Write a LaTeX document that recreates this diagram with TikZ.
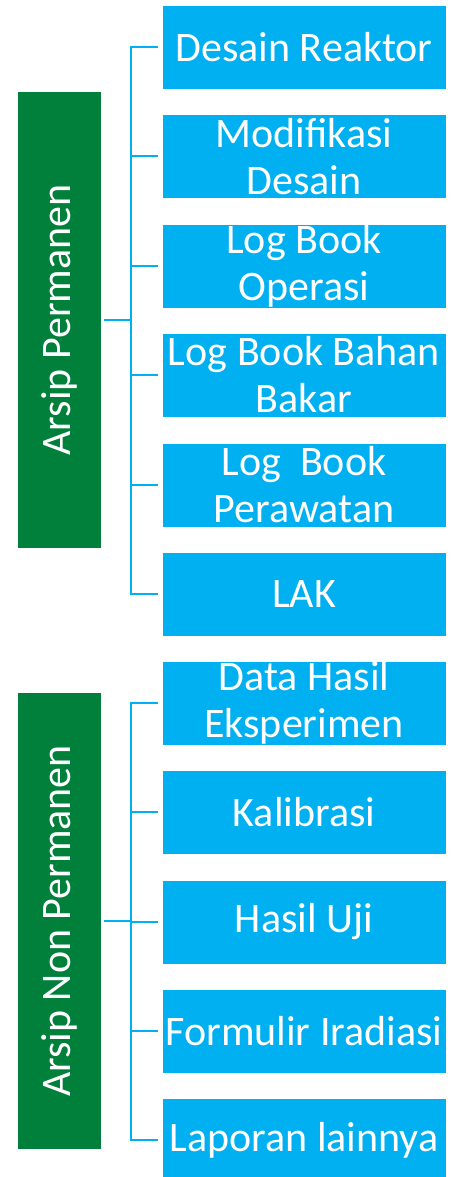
\documentclass[tikz,border=0pt]{standalone}
\usepackage{fontspec}
\setmainfont{Carlito}
\definecolor{boxblue}{RGB}{0,176,240}
\definecolor{boxgreen}{RGB}{0,128,58}
\tikzset{
  bbox/.style={fill=boxblue, draw=white, line width=0.6pt, minimum width=284pt, minimum height=84pt,
    inner sep=0pt, text=white, align=center, font=\fontsize{42}{47}\selectfont},
  gbox/.style={fill=boxgreen, draw=white, line width=0.6pt, minimum width=84pt, minimum height=457pt,
    inner sep=0pt, text=white, font=\fontsize{42}{47}\selectfont},
  conn/.style={draw=boxblue, line width=2pt},
}
\begin{document}
\begin{tikzpicture}[x=1pt,y=-1pt]
\useasboundingbox (0,0) rectangle (459,1177);
% group 1
\node[gbox] (g1) at (59,320) {\rotatebox{90}{Arsip Permanen}};
\node[bbox] (b1) at (304,47) {Desain Reaktor};
\node[bbox] (b2) at (304,156.5) {Modifikasi\\Desain};
\node[bbox] (b3) at (304,266) {Log Book\\Operasi};
\node[bbox] (b4) at (304,375) {Log Book Bahan\\Bakar};
\node[bbox] (b5) at (304,485) {Log\ \ Book\\Perawatan};
\node[bbox] (b6) at (304,594) {LAK};
% group 2
\node[gbox] (g2) at (59,921) {\rotatebox{90}{Arsip Non Permanen}};
\node[bbox] (c1) at (304,703) {Data Hasil\\Eksperimen};
\node[bbox] (c2) at (304,812) {Kalibrasi};
\node[bbox] (c3) at (304,922) {Hasil Uji};
\node[bbox] (c4) at (304,1031) {Formulir Iradiasi};
\node[bbox] (c5) at (304,1140) {Laporan lainnya};
% connectors group 1
\draw[conn] ([xshift=-4pt]b1.west) -| ([xshift=-31pt]b1.west) |- ([xshift=-4pt]b6.west);
\foreach \n in {b2,b3,b4,b5} \draw[conn] ([xshift=-4pt]\n.west) -- ([xshift=-31pt]\n.west);
\draw[conn] ([xshift=3pt]g1.east) -- ([xshift=-31pt]b1.west |- g1.east);
% connectors group 2
\draw[conn] ([xshift=-4pt]c1.west) -| ([xshift=-31pt]c1.west) |- ([xshift=-4pt]c5.west);
\foreach \n in {c2,c3,c4} \draw[conn] ([xshift=-4pt]\n.west) -- ([xshift=-31pt]\n.west);
\draw[conn] ([xshift=3pt]g2.east) -- ([xshift=-31pt]c1.west |- g2.east);
\end{tikzpicture}
\end{document}
